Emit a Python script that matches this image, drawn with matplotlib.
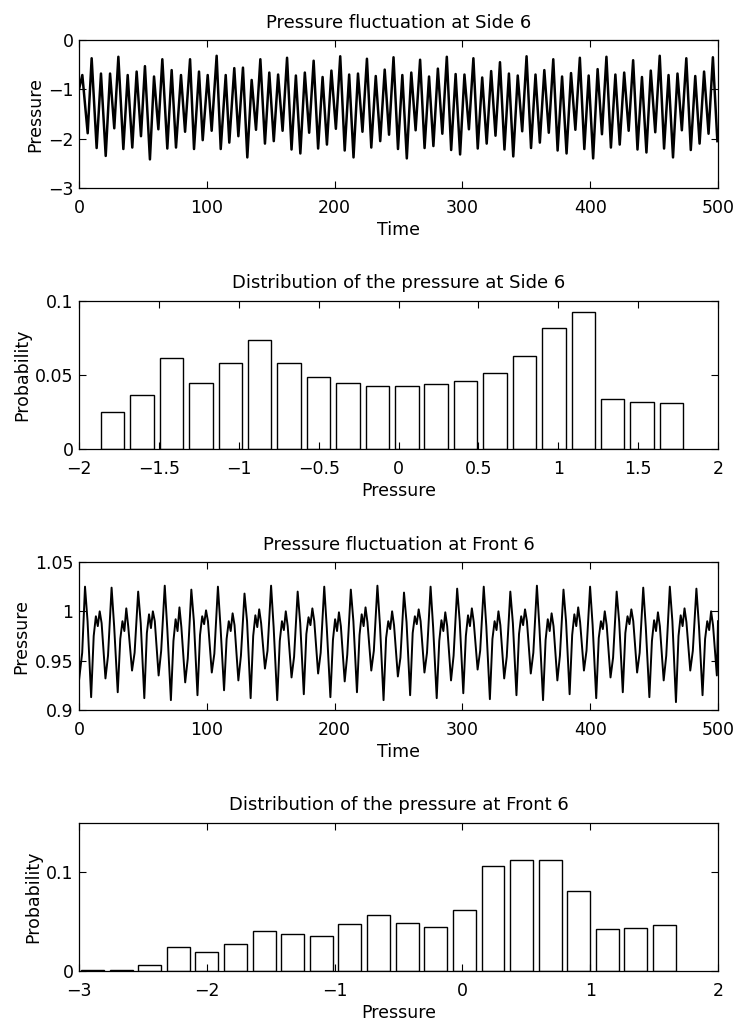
import matplotlib
matplotlib.use("Agg")
import matplotlib.pyplot as plt

plt.rcParams['font.family'] = ['DejaVu Sans']
plt.rcParams['font.size'] = 12.5

# ---------------- data ----------------
# Side 6 time series: alternating peaks / troughs
side_t = [0.0, 2.6, 6.8, 9.9, 13.8, 17.2, 20.9, 24.3, 27.6, 30.8, 34.7, 38.1, 41.7, 45.1,
          48.5, 51.6, 55.5, 58.7, 62.1, 65.2, 69.1, 72.5, 75.9, 79.8, 83.0, 86.9, 90.0,
          93.9, 96.8, 100.7, 103.8, 107.7, 110.9, 114.8, 117.6, 121.5, 124.7, 128.3,
          131.7, 135.1, 138.5, 141.9, 145.5,
          148.9, 152.4, 155.8, 159.3, 162.8, 166.3, 169.7, 173.2, 176.7, 180.1,
          183.6, 187.1, 190.6, 194.0, 197.5, 201.0, 204.4, 207.9, 211.4, 214.8,
          218.3, 221.8, 225.3, 228.7, 232.2, 235.7, 239.2, 242.6, 246.1, 249.6,
          253.0, 256.5, 260.0, 263.4, 266.9, 270.4, 273.9, 277.3, 280.8, 284.3,
          287.8, 291.2, 294.7, 298.2, 301.6, 305.1, 308.6, 312.0, 315.5, 319.0,
          322.5, 325.9, 329.4, 332.9, 336.4, 339.8, 343.3, 346.8, 350.2, 353.7,
          357.2, 360.6, 364.1, 367.6, 371.1, 374.5, 378.0, 381.5, 385.0, 388.4,
          391.9, 395.4, 398.8, 402.3, 405.8, 409.2, 412.7, 416.2, 419.7, 423.1,
          426.6, 430.1, 433.6, 437.0, 440.5, 444.0, 447.4, 450.9, 454.4, 457.8,
          461.3, 464.8, 468.3, 471.7, 475.2, 478.7, 482.2, 485.6, 489.1, 492.6,
          496.0, 499.5]
side_p = [-1.0, -0.71, -1.89, -0.37, -2.19, -0.68, -2.35, -0.68, -1.79, -0.34, -2.21, -0.71,
          -2.18, -0.64, -1.95, -0.53, -2.42, -0.74, -1.81, -0.39, -2.20, -0.61, -2.18, -0.71,
          -1.86, -0.39, -2.21, -0.64, -2.03, -0.71, -1.84, -0.32, -2.21, -0.71, -2.08, -0.57,
          -1.95, -0.56, -2.38, -0.81, -1.82, -0.39, -2.10,
          -0.66, -2.05, -0.70, -1.84, -0.36, -2.22, -0.72, -2.30, -0.66, -1.88,
          -0.42, -2.20, -0.75, -2.12, -0.62, -1.80, -0.33, -2.24, -0.70, -2.38,
          -0.68, -1.86, -0.38, -2.18, -0.73, -2.05, -0.60, -1.92, -0.35, -2.21,
          -0.71, -2.40, -0.66, -1.83, -0.40, -2.19, -0.74, -2.15, -0.58, -1.90,
          -0.34, -2.23, -0.69, -2.32, -0.70, -1.81, -0.37, -2.20, -0.76, -2.10,
          -0.63, -1.94, -0.45, -2.22, -0.68, -2.36, -0.72, -1.85, -0.33, -2.19,
          -0.70, -2.08, -0.61, -1.88, -0.39, -2.24, -0.74, -2.30, -0.67, -1.82,
          -0.36, -2.21, -0.72, -2.40, -0.59, -1.91, -0.34, -2.18, -0.70, -2.12,
          -0.66, -1.84, -0.41, -2.22, -0.75, -2.28, -0.62, -1.87, -0.32, -2.20,
          -0.71, -2.38, -0.68, -1.83, -0.37, -2.23, -0.73, -2.10, -0.64, -1.90,
          -0.35, -2.05]

side_bins = [-1.790, -1.606, -1.422, -1.237, -1.053, -0.869, -0.685, -0.501, -0.317, -0.132,
             0.052, 0.236, 0.420, 0.604, 0.788, 0.973, 1.157, 1.341, 1.525, 1.709]
side_prob = [0.0249, 0.0364, 0.0613, 0.0444, 0.0578, 0.0738, 0.0582, 0.0484, 0.0444, 0.0427,
             0.0424, 0.0438, 0.0462, 0.0516, 0.0627, 0.0820, 0.0927, 0.0338, 0.0316, 0.0311]

# Front 6 time series: read point by point (peak, fall, deep trough, plateau, dip, ...)
front_t = [0.0, 2.5,
           4.7, 6.7, 9.5, 11.5, 13.2, 14.7, 16.2, 17.7, 20.7, 22.7,
           25.5, 27.5, 30.3, 32.3, 34.0, 35.5, 37.0, 38.5, 41.5, 43.5,
           46.3, 48.3, 51.1, 53.1, 54.8, 56.3, 57.8, 59.3, 62.3, 64.3,
           67.1, 69.1, 71.9, 73.9, 75.6, 77.1, 78.6, 80.1, 83.1, 85.1,
           87.9, 89.9, 92.7, 94.7, 96.4, 97.9, 99.4, 100.9, 103.9, 105.9,
           108.7, 110.7, 113.5, 115.5, 117.2, 118.7, 120.2, 121.7, 124.7, 126.7,
           129.5, 131.5, 134.3, 136.3, 138.0, 139.5, 141.0, 142.5, 145.5, 147.5,
           150.3, 152.3, 155.1, 157.1, 158.8, 160.3, 161.8, 163.3, 166.3, 168.3,
           171.1, 173.1, 175.9, 177.9, 179.6, 181.1, 182.6, 184.1, 187.1, 189.1,
           191.9, 193.9, 196.7, 198.7, 200.4, 201.9, 203.4, 204.9, 207.9, 209.9,
           212.7, 214.7, 217.5, 219.5, 221.2, 222.7, 224.2, 225.7, 228.7, 230.7,
           233.5, 235.5, 238.3, 240.3, 242.0, 243.5, 245.0, 246.5, 249.5, 251.5,
           254.3, 256.3, 259.1, 261.1, 262.8, 264.3, 265.8, 267.3, 270.3, 272.3,
           275.1, 277.1, 279.9, 281.9, 283.6, 285.1, 286.6, 288.1, 291.1, 293.1,
           295.9, 297.9, 300.7, 302.7, 304.4, 305.9, 307.4, 308.9, 311.9, 313.9,
           316.7, 318.7, 321.5, 323.5, 325.2, 326.7, 328.2, 329.7, 332.7, 334.7,
           337.5, 339.5, 342.3, 344.3, 346.0, 347.5, 349.0, 350.5, 353.5, 355.5,
           358.3, 360.3, 363.1, 365.1, 366.8, 368.3, 369.8, 371.3, 374.3, 376.3,
           379.1, 381.1, 383.9, 385.9, 387.6, 389.1, 390.6, 392.1, 395.1, 397.1,
           399.9, 401.9, 404.7, 406.7, 408.4, 409.9, 411.4, 412.9, 415.9, 417.9,
           420.7, 422.7, 425.5, 427.5, 429.2, 430.7, 432.2, 433.7, 436.7, 438.7,
           441.5, 443.5, 446.3, 448.3, 450.0, 451.5, 453.0, 454.5, 457.5, 459.5,
           462.3, 464.3, 467.1, 469.1, 470.8, 472.3, 473.8, 475.3, 478.3, 480.3,
           483.1, 485.1, 487.9, 489.9, 491.6, 493.1, 494.6, 496.1, 499.1, 500.0]
front_p = [0.930, 0.958,
           1.025, 0.990, 0.913, 0.975, 0.995, 0.985, 1.000, 0.988, 0.932, 0.955,
           1.024, 0.985, 0.918, 0.972, 0.990, 0.980, 1.003, 0.985, 0.940, 0.958,
           1.020, 0.988, 0.912, 0.978, 0.997, 0.983, 1.000, 0.990, 0.935, 0.960,
           1.026, 0.982, 0.910, 0.970, 0.992, 0.980, 1.004, 0.984, 0.928, 0.952,
           1.022, 0.990, 0.915, 0.976, 0.995, 0.987, 1.001, 0.990, 0.938, 0.957,
           1.025, 0.985, 0.920, 0.972, 0.990, 0.980, 0.998, 0.986, 0.930, 0.955,
           1.018, 0.990, 0.912, 0.975, 0.996, 0.984, 1.002, 0.988, 0.942, 0.960,
           1.026, 0.984, 0.910, 0.970, 0.990, 0.981, 1.000, 0.985, 0.933, 0.954,
           1.020, 0.988, 0.916, 0.977, 0.994, 0.986, 1.003, 0.990, 0.937, 0.958,
           1.025, 0.983, 0.913, 0.971, 0.992, 0.980, 0.999, 0.985, 0.929, 0.956,
           1.022, 0.990, 0.918, 0.976, 0.997, 0.985, 1.004, 0.989, 0.940, 0.960,
           1.026, 0.986, 0.910, 0.973, 0.990, 0.982, 1.000, 0.986, 0.934, 0.953,
           1.019, 0.989, 0.915, 0.978, 0.995, 0.987, 1.002, 0.990, 0.938, 0.958,
           1.025, 0.984, 0.912, 0.970, 0.991, 0.980, 0.999, 0.985, 0.930, 0.955,
           1.023, 0.990, 0.917, 0.975, 0.996, 0.985, 1.003, 0.989, 0.941, 0.960,
           1.025, 0.985, 0.911, 0.972, 0.990, 0.981, 1.000, 0.986, 0.932, 0.954,
           1.020, 0.988, 0.915, 0.977, 0.995, 0.986, 1.002, 0.990, 0.937, 0.958,
           1.026, 0.983, 0.910, 0.971, 0.992, 0.980, 0.998, 0.985, 0.930, 0.955,
           1.022, 0.990, 0.916, 0.976, 0.997, 0.985, 1.004, 0.989, 0.940, 0.960,
           1.025, 0.986, 0.912, 0.973, 0.990, 0.982, 1.000, 0.986, 0.933, 0.953,
           1.020, 0.989, 0.918, 0.978, 0.995, 0.987, 1.002, 0.990, 0.938, 0.958,
           1.024, 0.984, 0.913, 0.970, 0.991, 0.980, 0.999, 0.985, 0.930, 0.955,
           1.025, 0.990, 0.908, 0.975, 0.996, 0.985, 1.003, 0.989, 0.940, 0.960,
           1.023, 0.985, 0.915, 0.972, 0.990, 0.981, 1.000, 0.986, 0.935, 0.990]

front_bins = [-2.896, -2.670, -2.446, -2.222, -1.999, -1.775, -1.551, -1.328, -1.104, -0.880,
              -0.656, -0.433, -0.209, 0.015, 0.239, 0.462, 0.686, 0.910, 1.134, 1.357, 1.581]
front_prob = [0.0006, 0.0010, 0.0057, 0.0243, 0.0190, 0.0273, 0.0407, 0.0373, 0.0357, 0.0473,
              0.0563, 0.0490, 0.0443, 0.0617, 0.1060, 0.1127, 0.1120, 0.0813, 0.0430, 0.0437,
              0.0467]

# ---------------- figure ----------------
fig = plt.figure(figsize=(7.34, 10.26), dpi=100)
L, W, H = 79 / 734, 639 / 734, 148 / 1026
tops = [40, 301, 562, 823]
axs = [fig.add_axes([L, 1 - (t + 148) / 1026, W, H]) for t in tops]

TICK_FS, LAB_FS, TTL_FS = 12.5, 12.5, 13

def style(ax, title, xlabel, ylabel):
    ax.tick_params(direction='in', top=True, right=True, length=5, width=0.8,
                   labelsize=TICK_FS)
    ax.tick_params(axis='x', pad=8)
    ax.tick_params(axis='y', pad=4)
    for s in ax.spines.values():
        s.set_linewidth(0.9)
    ax.set_title(title, fontsize=TTL_FS, pad=9)
    ax.set_xlabel(xlabel, fontsize=LAB_FS, labelpad=3)
    ax.set_ylabel(ylabel, fontsize=LAB_FS, labelpad=3)

ax = axs[0]
ax.plot(side_t, side_p, color='black', lw=1.8)
ax.set_xlim(0, 500); ax.set_ylim(-3, 0)
ax.set_yticks([-3, -2, -1, 0])
ax.set_xticks([0, 100, 200, 300, 400, 500])
style(ax, 'Pressure fluctuation at Side 6', 'Time', 'Pressure')

ax = axs[1]
ax.bar(side_bins, side_prob, width=0.147, color='white', edgecolor='black', lw=1.0)
ax.set_xlim(-2, 2); ax.set_ylim(0, 0.1)
ax.set_yticks([0, 0.05, 0.1]); ax.set_yticklabels(['0', '0.05', '0.1'])
ax.set_xticks([-2, -1.5, -1, -0.5, 0, 0.5, 1, 1.5, 2])
ax.set_xticklabels(['\u22122', '\u22121.5', '\u22121', '\u22120.5', '0', '0.5', '1', '1.5', '2'])
style(ax, 'Distribution of the pressure at Side 6', 'Pressure', 'Probability')

ax = axs[2]
ax.plot(front_t, front_p, color='black', lw=1.4)
ax.set_xlim(0, 500); ax.set_ylim(0.9, 1.05)
ax.set_yticks([0.9, 0.95, 1.0, 1.05]); ax.set_yticklabels(['0.9', '0.95', '1', '1.05'])
ax.set_xticks([0, 100, 200, 300, 400, 500])
style(ax, 'Pressure fluctuation at Front 6', 'Time', 'Pressure')

ax = axs[3]
ax.bar(front_bins, front_prob, width=0.179, color='white', edgecolor='black', lw=1.0)
ax.set_xlim(-3, 2); ax.set_ylim(0, 0.15)
ax.set_yticks([0, 0.1]); ax.set_yticklabels(['0', '0.1'])
ax.set_xticks([-3, -2, -1, 0, 1, 2])
ax.set_xticklabels(['\u22123', '\u22122', '\u22121', '0', '1', '2'])
style(ax, 'Distribution of the pressure at Front 6', 'Pressure', 'Probability')

fig.savefig('out.png', dpi=100)
